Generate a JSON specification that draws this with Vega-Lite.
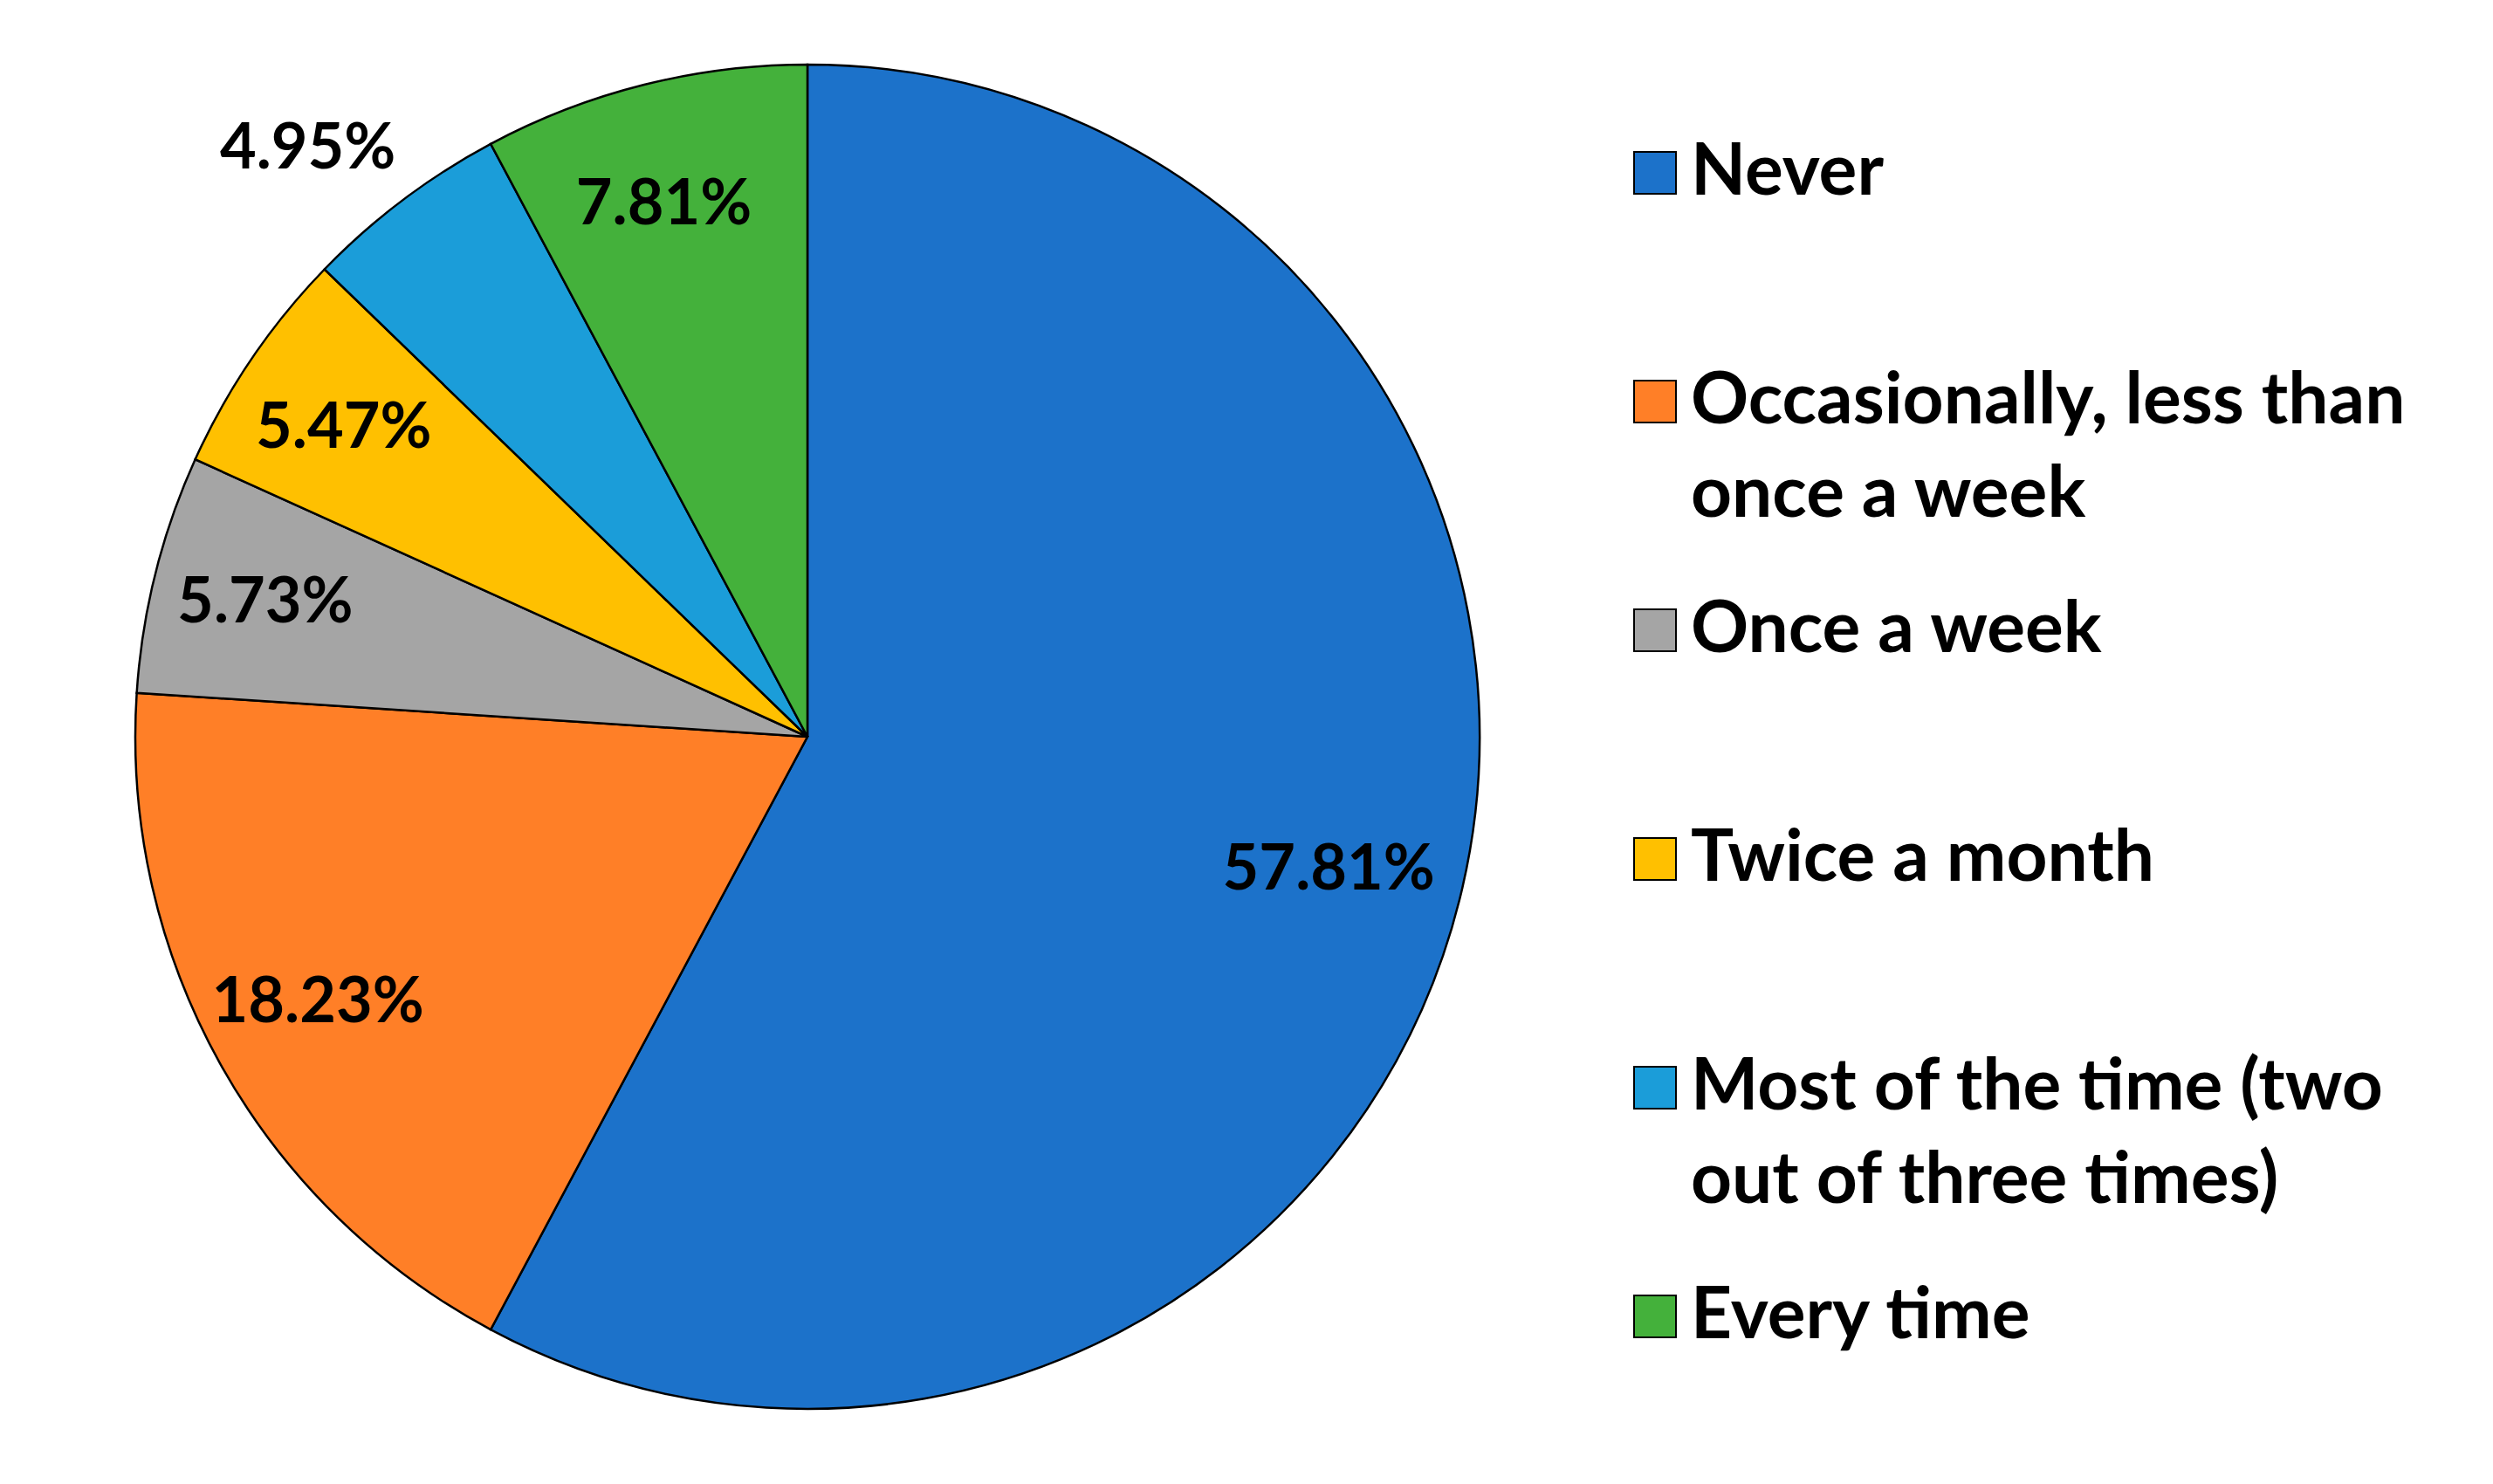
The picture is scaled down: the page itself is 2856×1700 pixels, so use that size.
{
  "$schema": "https://vega.github.io/schema/vega-lite/v6.json",
  "autosize": "none",
  "width": 1540,
  "height": 1540,
  "padding": {"left": 155, "top": 74, "right": 1161, "bottom": 86},
  "background": "white",
  "config": {
    "view": {"stroke": null},
    "legend": {
      "labelFont": "Lato",
      "labelFontWeight": "bold",
      "labelFontSize": 82,
      "labelColor": "black",
      "labelLimit": 0,
      "symbolType": "square",
      "symbolSize": 2304,
      "symbolStrokeColor": "black",
      "symbolStrokeWidth": 2,
      "symbolOpacity": 1
    }
  },
  "data": {
    "values": [
      {"answer": "Never", "pct": 0.5781},
      {"answer": "Occasionally, less than once a week", "pct": 0.1823},
      {"answer": "Once a week", "pct": 0.0573},
      {"answer": "Twice a month", "pct": 0.0547},
      {"answer": "Most of the time (two out of three times)", "pct": 0.0495},
      {"answer": "Every time", "pct": 0.0781}
    ]
  },
  "transform": [
    {"window": [{"op": "row_number", "as": "row"}]}
  ],
  "encoding": {
    "theta": {"field": "pct", "type": "quantitative", "stack": true},
    "order": {"field": "row", "type": "quantitative"},
    "color": {
      "field": "answer",
      "type": "nominal",
      "sort": null,
      "scale": {
        "domain": ["Never", "Occasionally, less than once a week", "Once a week", "Twice a month", "Most of the time (two out of three times)", "Every time"],
        "range": ["#1C72CA", "#FF7F27", "#A5A5A5", "#FFC000", "#1B9DD9", "#44B13B"]
      },
      "legend": {
        "title": null,
        "orient": "none",
        "legendX": 1700,
        "legendY": 83,
        "padding": 0,
        "labelOffset": 0,
        "rowPadding": 73,
        "gridAlign": "all",
        "labelExpr": "datum.label == 'Occasionally, less than once a week' ? ['Occasionally, less than', 'once a week'] : datum.label == 'Most of the time (two out of three times)' ? ['Most of the time (two', 'out of three times)'] : datum.label",
        "encode": {
          "labels": {"update": {"lineHeight": {"value": 107}}}
        }
      }
    }
  },
  "layer": [
    {
      "mark": {"type": "arc", "stroke": "black", "strokeWidth": 2.5}
    },
    {
      "mark": {"type": "text", "radius": 628, "dx": -12, "font": "Lato", "fontWeight": "bold", "fontSize": 72, "color": "black"},
      "encoding": {
        "text": {
          "condition": {"test": "datum.answer == 'Most of the time (two out of three times)'", "value": ""},
          "field": "pct", "type": "quantitative", "format": ".2%"
        },
        "color": {"value": "black"}
      }
    },
    {
      "mark": {"type": "text", "radius": 884, "dx": -40, "dy": 33, "font": "Lato", "fontWeight": "bold", "fontSize": 72, "color": "black"},
      "encoding": {
        "text": {
          "condition": {"test": "datum.answer != 'Most of the time (two out of three times)'", "value": ""},
          "field": "pct", "type": "quantitative", "format": ".2%"
        },
        "color": {"value": "black"}
      }
    }
  ]
}
